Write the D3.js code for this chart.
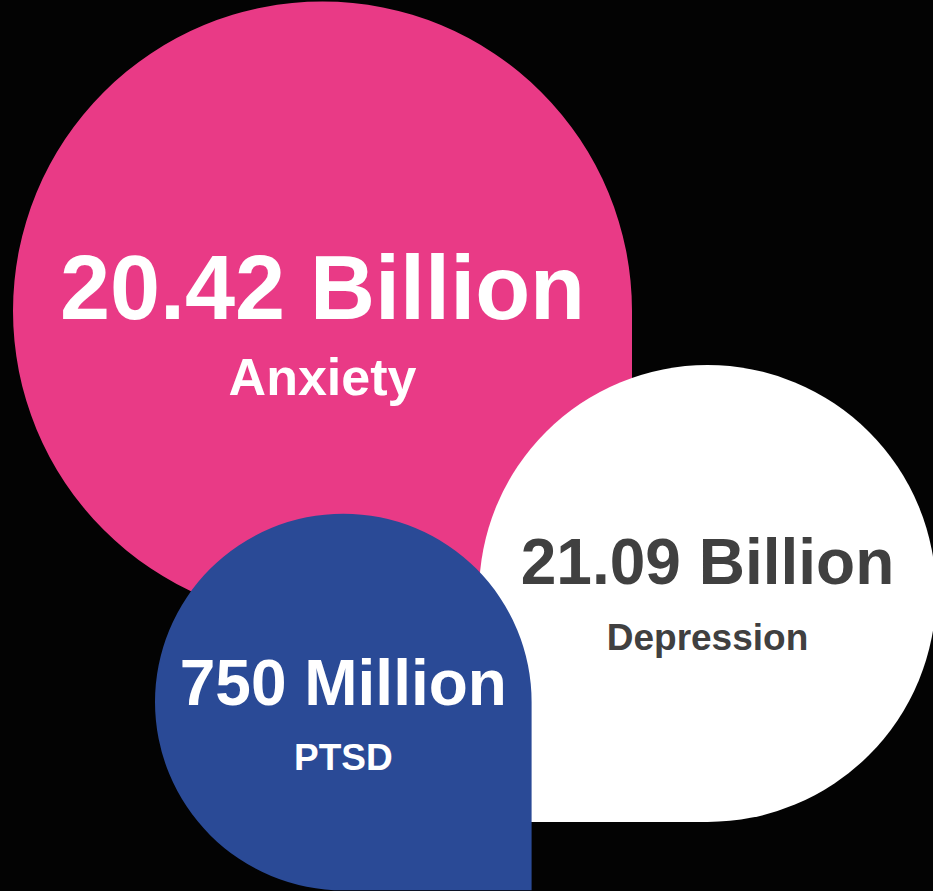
<!DOCTYPE html>
<html>
<head>
<meta charset="utf-8">
<script src="https://cdn.jsdelivr.net/npm/d3@7"></script>
<style>
  html, body { margin: 0; padding: 0; background: #030303; }
  svg { display: block; }
</style>
</head>
<body>
<div id="chart"></div>
<script>
// ---- data ----
const categories = ["Anxiety", "Depression", "PTSD"];
const valuesBillion = [20.42, 21.09, 0.75];

// ---- layout / style (not data) ----
const W = 933, H = 891;
const layout = [
  { cx: 322.5, cy: 311, r: 309.5, square: "br", fill: "#e93a86", text: "#ffffff", valueSize: 90, nameSize: 52, valueDy: 8,   nameDy: 84 },
  { cx: 707.5, cy: 593.5, r: 228.5, square: "bl", fill: "#ffffff", text: "#404040", valueSize: 64, nameSize: 37, valueDy: -10, nameDy: 56 },
  { cx: 343.3, cy: 702, r: 188.3, square: "br", fill: "#2a4a96", text: "#ffffff", valueSize: 64, nameSize: 37, valueDy: 2.5, nameDy: 68 }
];

const fmtLabel = v => v >= 1 ? d3.format(".2f")(v) + " Billion" : d3.format(",")(Math.round(v * 1000)) + " Million";

const data = categories.map((c, i) => ({ name: c, value: valuesBillion[i], label: fmtLabel(valuesBillion[i]), ...layout[i] }));

function dropPath(d) {
  const p = d3.path();
  const { cx, cy, r } = d;
  const PI = Math.PI;
  if (d.square === "br") {
    p.moveTo(cx, cy + r);
    p.arc(cx, cy, r, PI / 2, 2 * PI);
    p.lineTo(cx + r, cy + r);
    p.closePath();
  } else if (d.square === "bl") {
    p.moveTo(cx - r, cy);
    p.arc(cx, cy, r, PI, 2.5 * PI);
    p.lineTo(cx - r, cy + r);
    p.closePath();
  }
  return p.toString();
}

const svg = d3.select("#chart").append("svg")
  .attr("width", W).attr("height", H)
  .style("background", "#030303");

const g = svg.selectAll("g.bubble").data(data).enter().append("g").attr("class", "bubble");

g.append("path")
  .attr("d", dropPath)
  .attr("fill", d => d.fill);

g.append("text")
  .attr("x", d => d.cx)
  .attr("y", d => d.cy + d.valueDy)
  .attr("text-anchor", "middle")
  .attr("font-family", "'Liberation Sans', Arial, sans-serif")
  .attr("font-weight", "bold")
  .attr("font-size", d => d.valueSize)
  .attr("fill", d => d.text)
  .text(d => d.label);

g.append("text")
  .attr("x", d => d.cx)
  .attr("y", d => d.cy + d.nameDy)
  .attr("text-anchor", "middle")
  .attr("font-family", "'Liberation Sans', Arial, sans-serif")
  .attr("font-weight", "bold")
  .attr("font-size", d => d.nameSize)
  .attr("fill", d => d.text)
  .text(d => d.name);
</script>
</body>
</html>
